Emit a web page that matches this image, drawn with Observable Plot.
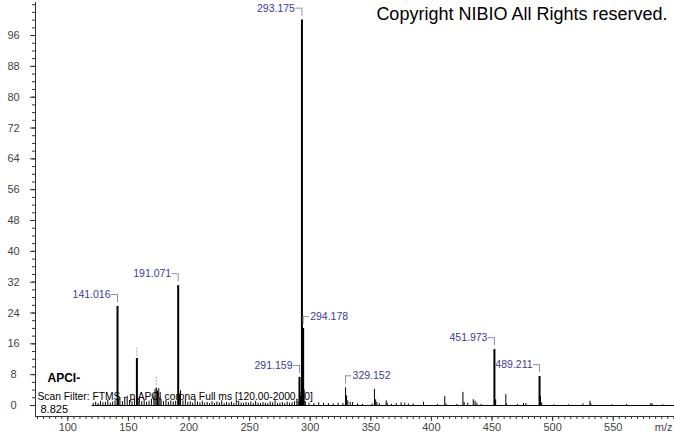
<!DOCTYPE html>
<html><head><meta charset="utf-8">
<script src="https://cdn.jsdelivr.net/npm/d3@7"></script>
<script src="https://cdn.jsdelivr.net/npm/@observablehq/plot@0.6"></script>
<style>
html,body{margin:0;padding:0;background:#fff;}
</style>
</head><body><div id="chart"></div>
<script>
// Spectrum peaks (m/z, relative abundance %)
const peakMz = [
  121.0,123.0,125.0,127.0,129.0,131.0,133.0,135.0,137.0,139.0,
  141.016,142.0,143.0,145.0,147.0,149.0,151.0,153.0,155.0,157.0,
  158.0,159.0,161.0,163.0,165.0,167.0,169.0,171.0,172.0,173.0,
  174.0,175.0,176.0,177.0,179.0,181.0,183.0,185.0,187.0,189.0,
  191.071,192.0,193.0,195.0,197.0,199.0,201.0,203.0,205.0,207.0,
  209.0,211.0,213.0,215.0,217.0,219.0,221.0,223.0,225.0,227.0,
  229.0,231.0,233.0,235.0,237.0,239.0,241.0,243.0,245.0,247.0,
  249.0,251.0,253.0,255.0,257.0,259.0,261.0,263.0,265.0,267.0,
  269.0,271.0,273.0,275.0,277.0,279.0,281.0,283.0,285.0,287.0,
  289.0,290.0,291.159,292.0,293.175,294.178,295.0,296.0,299.0,303.0,
  307.0,311.0,315.0,319.0,323.0,327.0,329.152,330.0,331.0,333.0,
  335.0,339.0,343.0,351.0,353.0,354.0,355.0,357.0,362.7,363.5,
  367.0,371.0,375.0,378.0,381.0,385.0,393.5,405.0,411.0,412.0,
  421.0,426.0,427.0,430.0,434.5,436.0,437.5,441.0,451.973,453.0,
  461.4,462.0,471.0,476.0,478.0,489.211,490.0,491.0,501.0,513.0,
  525.0,530.8,531.5,549.0,561.0,581.0,582.0,591.0
];
const peakIntensity = [
  0.6,0.9,0.5,1.1,0.7,0.8,1.4,0.6,0.9,1.2,
  25.7,1.5,2.0,1.0,1.8,2.4,1.3,0.9,1.6,12.2,
  1.2,1.9,1.0,1.4,0.8,1.1,1.6,2.5,4.2,4.6,
  3.8,4.4,2.0,1.5,1.0,1.3,0.8,1.2,0.9,1.1,
  31.1,3.0,3.8,1.2,1.5,0.8,1.0,0.6,1.3,0.9,
  0.7,1.1,0.6,0.8,0.5,1.0,0.6,0.9,0.7,1.2,
  0.5,0.8,0.6,0.9,0.5,0.7,1.0,0.6,0.5,0.8,
  0.6,0.9,0.5,1.1,0.6,0.5,0.8,0.6,0.5,0.9,
  0.7,1.2,0.5,0.6,0.8,0.5,0.9,0.6,0.7,1.0,
  1.5,1.0,7.3,2.5,100,20.0,4.0,1.0,0.6,0.5,
  0.7,0.6,0.5,0.4,0.6,0.5,4.6,2.5,1.2,0.8,
  0.8,0.4,0.3,0.4,4.2,1.5,0.8,0.5,1.2,0.6,
  0.3,0.5,0.7,0.6,0.4,0.4,0.8,0.3,2.3,0.4,
  0.3,3.4,0.8,0.6,1.5,1.1,0.6,0.3,14.5,1.5,
  2.8,0.4,0.3,0.5,0.5,7.5,2.3,0.7,0.2,0.2,
  0.4,1.1,0.4,0.2,0.3,0.5,0.4,0.2
];
// Labelled peaks
const labelMz = [141.016, 191.071, 291.159, 293.175, 294.178, 329.152, 451.973, 489.211];
const labelIntensity = [25.7, 31.1, 7.3, 100, 20.0, 4.6, 14.5, 7.5];
const labelSide = ["left", "left", "left", "left", "right", "right", "left", "left"];
// Peaks with hidden labels (grey markers only)
const markMz = [157.0, 173.0];
const markIntensity = [12.2, 4.6];
// Axis ticks
const xMajorTicks = [100, 150, 200, 250, 300, 350, 400, 450, 500, 550];
const yMajorTicks = [0, 8, 16, 24, 32, 40, 48, 56, 64, 72, 80, 88, 96];
// Texts
const copyrightText = "Copyright NIBIO All Rights reserved.";
const ionText = "APCI-";
const filterText = "Scan Filter: FTMS - p APCI corona Full ms [120.00-2000.00]";
const rtText = "8.825";
const xAxisLabel = "m/z";

const peaks = peakMz.map((m, i) => ({mz: m, i: peakIntensity[i]}));
const labels = labelMz.map((m, k) => ({mz: m, i: labelIntensity[k], side: labelSide[k], text: m.toFixed(3)}));
const marks = markMz.map((m, k) => ({mz: m, i: markIntensity[k]}));
const xMinorTicks = d3.range(75, 601, 5);
const yMinorTicks = d3.range(0, 105, 2);

const labelColor = "#3b3b9c";
const bracketColor = "#8e8ea8";
const axisColor = "#333";
const tickTextColor = "#444";

const chart = Plot.plot({
  width: 674,
  height: 434,
  marginLeft: 35,
  marginRight: 0,
  marginTop: 2,
  marginBottom: 18,
  style: {fontFamily: "'Liberation Sans', Arial, sans-serif", fontSize: "11px", background: "#fff", overflow: "visible"},
  x: {type: "linear", domain: [73.35, 600.55], axis: null},
  y: {type: "linear", domain: [-2.854, 104.57], axis: null},
  marks: [
    // axes
    Plot.axisX(xMinorTicks, {tickSize: 3, tickFormat: () => "", stroke: axisColor, label: null}),
    Plot.axisX(xMajorTicks, {tickSize: 5, tickPadding: 2, stroke: axisColor, fill: tickTextColor, fontSize: 11, label: null}),
    Plot.axisY(yMinorTicks, {tickSize: 3, tickFormat: () => "", stroke: axisColor, label: null}),
    Plot.axisY(yMajorTicks, {tickSize: 5, tickPadding: 17, textAnchor: "middle", stroke: axisColor, fill: tickTextColor, fontSize: 11, label: null}),
    Plot.frame({anchor: "left", stroke: axisColor}),
    Plot.frame({anchor: "bottom", stroke: axisColor}),
    Plot.text([xAxisLabel], {frameAnchor: "bottom-right", textAnchor: "end", lineAnchor: "middle", dx: -2, dy: 11, fill: tickTextColor, fontSize: 11}),
    // baseline of spectrum
    Plot.ruleY([0], {x1: 120, x2: 600.55, stroke: "#000", strokeWidth: 1}),
    // peaks
    Plot.ruleX(peaks.filter(d => d.i < 5), {x: "mz", y1: 0, y2: "i", stroke: "#000", strokeWidth: 1}),
    Plot.ruleX(peaks.filter(d => d.i >= 5), {x: "mz", y1: 0, y2: "i", stroke: "#000", strokeWidth: 2}),
    // hidden-label markers
    Plot.ruleX(marks, {x: "mz", y1: d => d.i + 0.6, y2: d => d.i + 2.9, stroke: "#a8a8b4", strokeDasharray: "2,1"}),
    // label brackets
    Plot.ruleX(labels, {x: "mz", y1: d => d.i + 1.0, y2: d => d.i + 3.1, stroke: bracketColor}),
    Plot.ruleY(labels, {y: d => d.i + 3.1, x1: d => d.side === "left" ? d.mz - 5 : d.mz, x2: d => d.side === "left" ? d.mz : d.mz + 5, stroke: bracketColor}),
    Plot.text(labels.filter(d => d.side === "left"), {x: "mz", y: d => d.i + 3.1, text: "text", textAnchor: "end", lineAnchor: "middle", dx: -7, fill: labelColor, fontSize: 10.5}),
    Plot.text(labels.filter(d => d.side === "right"), {x: "mz", y: d => d.i + 3.1, text: "text", textAnchor: "start", lineAnchor: "middle", dx: 7, fill: labelColor, fontSize: 10.5}),
    // annotations
    Plot.text([copyrightText], {frameAnchor: "top-right", textAnchor: "end", lineAnchor: "middle", dx: -7, dy: 12, fill: "#000", fontSize: 18}),
    Plot.text([ionText], {frameAnchor: "bottom-left", textAnchor: "start", lineAnchor: "middle", dx: 12, dy: -38, fill: "#000", fontSize: 12, fontWeight: "bold"}),
    Plot.text([filterText], {frameAnchor: "bottom-left", textAnchor: "start", lineAnchor: "middle", dx: 2, dy: -20, fill: "#000", fontSize: 10.3}),
    Plot.text([rtText], {frameAnchor: "bottom-left", textAnchor: "start", lineAnchor: "middle", dx: 5, dy: -7, fill: "#000", fontSize: 11})
  ]
});
document.getElementById("chart").appendChild(chart);
</script>
</body></html>
